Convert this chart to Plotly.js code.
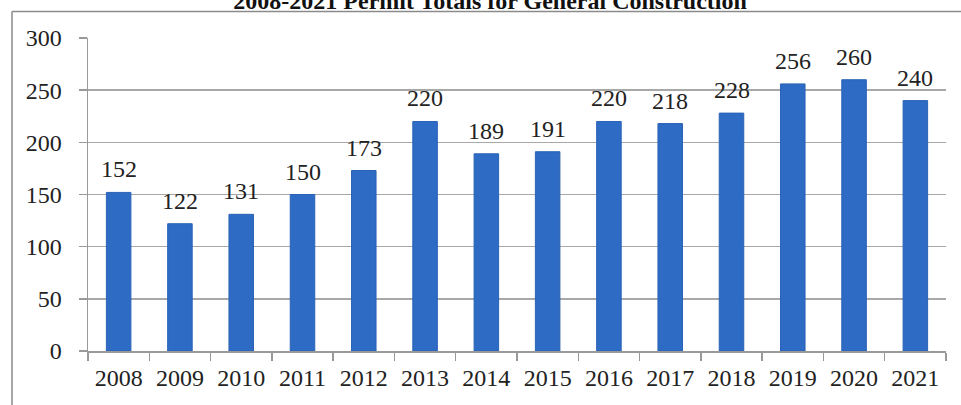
<!DOCTYPE html>
<html><head><meta charset="utf-8">
<script src="https://cdn.plot.ly/plotly-3.0.1.min.js"></script>
<style>html,body{margin:0;padding:0;background:#fff;}#c{width:961px;height:405px;}</style>
</head><body><div id="c"></div>
<script>
const years = ['2008','2009','2010','2011','2012','2013','2014','2015','2016','2017','2018','2019','2020','2021'];
const permits = [152,122,131,150,173,220,189,191,220,218,228,256,260,240];
const titleText = '2008-2021 Permit Totals for General Construction';

const serif = '"Liberation Serif"';
const annotations = years.map((y,i)=>({
  x: i, y: permits[i], xref:'x', yref:'y', text: String(permits[i]),
  showarrow:false, yanchor:'bottom', yshift:8,
  font:{family:serif, size:24, color:'#222'}
}));

const trace = {
  type:'bar', x: years, y: permits,
  marker:{color:'#2e6bc4', line:{color:'#2a62b5', width:1}},
  hoverinfo:'none'
};

const layout = {
  width:961, height:405,
  font:{family:serif},
  margin:{l:88, r:15, t:38, b:54},
  paper_bgcolor:'#fff', plot_bgcolor:'#fff',
  bargap:0.6,
  showlegend:false,
  title:{text:'<b>'+titleText+'</b>', x:0.51, xanchor:'center', yref:'container', y:0.978, yanchor:'bottom',
    font:{family:serif, size:24, color:'#111'}},
  xaxis:{type:'category', range:[-0.5, years.length-0.5], showgrid:false, showline:true, linecolor:'#999', linewidth:1.5,
    ticks:'outside', tickson:'boundaries', ticklen:8, tickcolor:'#999', tickwidth:1.5, tickangle:0,
    tickfont:{family:serif, size:24, color:'#222'}, ticklabelstandoff:5},
  yaxis:{range:[0,300], tickvals:[0,50,100,150,200,250,300], showgrid:true, gridcolor:'#a8a8a8', gridwidth:1.5,
    showline:true, linecolor:'#999', linewidth:1.5, ticks:'outside', ticklen:8, tickcolor:'#999', tickwidth:1.5,
    tickfont:{family:serif, size:24, color:'#222'}, ticklabelstandoff:12, zeroline:false},
  annotations: annotations,
  shapes:[
    {type:'line', xref:'paper', yref:'paper', x0:-0.0886, x1:-0.0886, y0:1.085, y1:-0.18, line:{color:'#8a8a8a', width:1.5}},
    {type:'line', xref:'paper', yref:'paper', x0:-0.0886, x1:1.02, y0:1.085, y1:1.085, line:{color:'#8a8a8a', width:1.5}}
  ]
};
Plotly.newPlot('c',[trace],layout,{displayModeBar:false, staticPlot:true});
</script></body></html>
